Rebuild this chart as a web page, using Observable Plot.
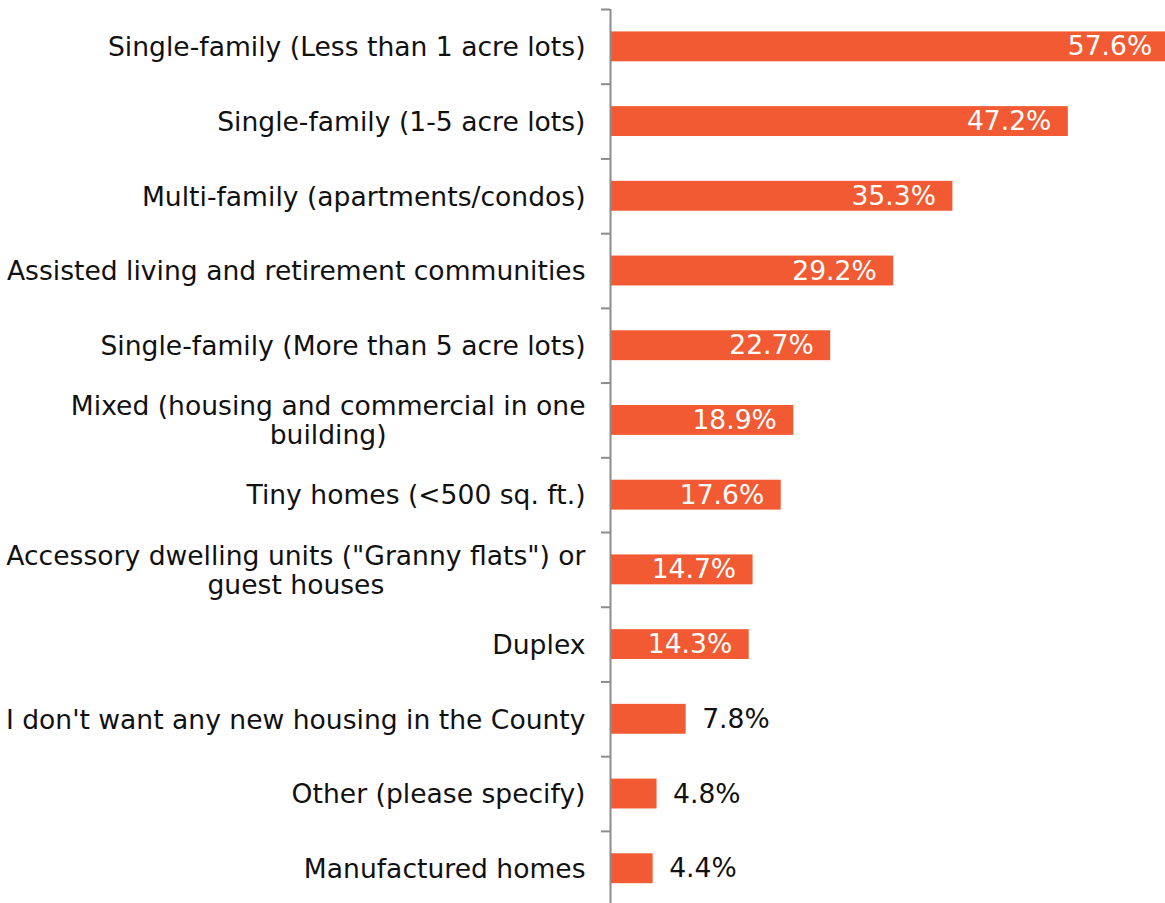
<!DOCTYPE html>
<html><head><meta charset="utf-8">
<script src="https://cdn.jsdelivr.net/npm/d3@7"></script>
<script src="https://cdn.jsdelivr.net/npm/@observablehq/plot@0.6"></script>
<style>html,body{margin:0;padding:0;background:#fff} #chart svg{display:block}</style>
</head><body><div id="chart"></div>
<script>
const categories = [
  "Single-family (Less than 1 acre lots)",
  "Single-family (1-5 acre lots)",
  "Multi-family (apartments/condos)",
  "Assisted living and retirement communities",
  "Single-family (More than 5 acre lots)",
  "Mixed (housing and commercial in one\nbuilding)",
  "Tiny homes (<500 sq. ft.)",
  "Accessory dwelling units (\"Granny flats\") or\nguest houses",
  "Duplex",
  "I don't want any new housing in the County",
  "Other (please specify)",
  "Manufactured homes"
];
const values = [57.6, 47.2, 35.3, 29.2, 22.7, 18.9, 17.6, 14.7, 14.3, 7.8, 4.8, 4.4];
const data = categories.map((c, i) => ({category: c, value: values[i]}));

const FAMILY = "DejaVu Sans";
const FONT = `'${FAMILY}', sans-serif`;
// fit the font size so the longest label is as wide as in the original (~579px)
const ctx = document.createElement("canvas").getContext("2d");
ctx.font = `26px '${FAMILY}'`;
const FS = Math.min(27, 26 * 579 / ctx.measureText(categories[3]).width);
const AXIS = "#8c8c8c";
const BAR = "#F15A32";
const INK = "#111";

const chart = Plot.plot({
  width: 1165, height: 903,
  marginTop: 9, marginBottom: 0, marginLeft: 610, marginRight: 0,
  style: {fontFamily: FONT, fontSize: FS + "px", background: "#fff", color: INK},
  x: {domain: [0, 57.6], range: [610, 1168.7], axis: null},
  y: {domain: categories, range: [9, 905.6], paddingInner: 0.6, paddingOuter: 0.3, round: false, axis: null},
  marks: [
    Plot.barX(data, {x: "value", y: "category", fill: BAR}),
    Plot.text(data.filter(d => d.value >= 10), {
      x: "value", y: "category", text: d => d.value.toFixed(1) + "%",
      textAnchor: "end", dx: -17, fill: "white", fontSize: FS
    }),
    Plot.text(data.filter(d => d.value < 10), {
      x: "value", y: "category", text: d => d.value.toFixed(1) + "%",
      textAnchor: "start", dx: 16, fill: INK, fontSize: FS
    }),
    Plot.axisY({tickSize: 0, tickPadding: 25, fontSize: FS, lineWidth: Infinity, lineHeight: 29 / FS, fill: INK, label: null}),
    Plot.axisY({tickSize: 9, tickFormat: () => "", dy: -37.36, stroke: AXIS, strokeWidth: 2, label: null}),
    Plot.ruleX([0], {stroke: AXIS, strokeWidth: 2})
  ]
});
document.getElementById("chart").appendChild(chart);

// center wrapped multi-line labels (as in the original)
chart.querySelectorAll("text").forEach(t => {
  const spans = t.querySelectorAll("tspan");
  if (spans.length > 1) {
    let w = 0;
    spans.forEach(s => { w = Math.max(w, s.getComputedTextLength()); });
    t.setAttribute("text-anchor", "middle");
    spans.forEach(s => s.setAttribute("x", -w / 2 + (+s.getAttribute("x") || 0)));
  }
});
</script>
</body></html>
